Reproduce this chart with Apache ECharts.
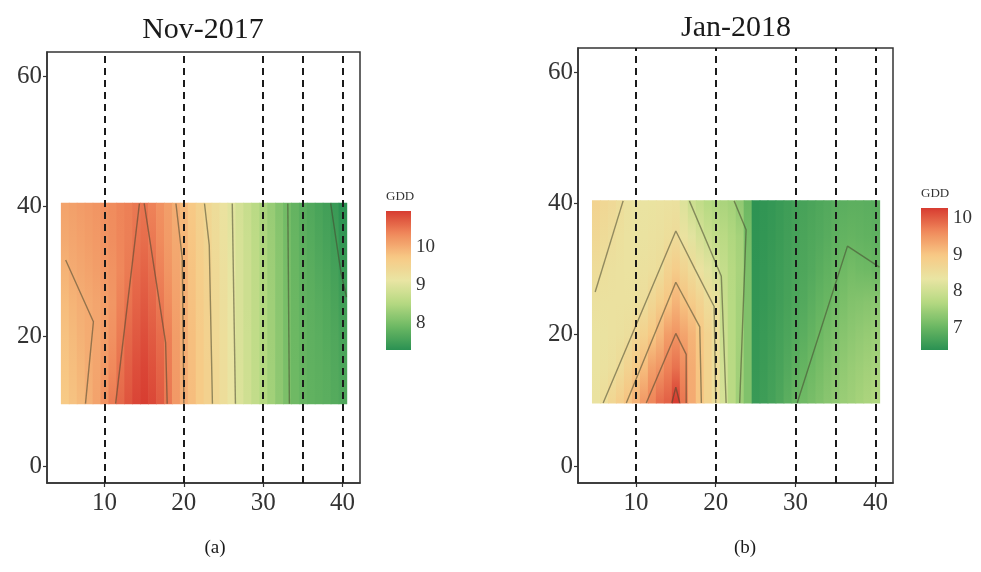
<!DOCTYPE html>
<html>
<head>
<meta charset="utf-8">
<script src="https://cdn.jsdelivr.net/npm/echarts@6/dist/echarts.min.js"></script>
<style>
html,body{margin:0;padding:0;background:#fff;}
#chart{width:981px;height:572px;}
</style>
</head>
<body>
<div id="chart"></div>
<script>
// ---------------- DATA ----------------
const panelTitles = ['Nov-2017', 'Jan-2018'];
const panelCaptions = ['(a)', '(b)'];
const legendTitle = 'GDD';
const xCols = [5,6,7,8,9,10,11,12,13,14,15,16,17,18,19,20,21,22,23,24,25,26,27,28,29,30,31,32,33,34,35,36,37,38,39,40];
const yRows = [10,15,20,25,30,35,40];
const xTicks = [10,20,30,40];
const yTicks = [0,20,40,60];
const dashedX = [10,20,30,35,40];

// GDD per column (x), values at yRows (bottom -> top)
const gddNov2017 = [
 [9.72,9.76,9.80,9.86,9.95,10.04,10.10],
 [9.80,9.84,9.88,9.94,10.02,10.08,10.13],
 [9.88,9.92,9.96,9.99,10.06,10.12,10.17],
 [9.97,10.00,10.01,10.03,10.10,10.16,10.20],
 [10.10,10.08,10.06,10.08,10.15,10.20,10.24],
 [10.25,10.20,10.15,10.15,10.20,10.25,10.28],
 [10.45,10.35,10.27,10.23,10.25,10.30,10.32],
 [10.60,10.53,10.46,10.40,10.36,10.37,10.38],
 [10.75,10.68,10.60,10.52,10.46,10.43,10.42],
 [10.87,10.80,10.72,10.64,10.57,10.51,10.48],
 [10.93,10.87,10.80,10.72,10.64,10.56,10.51],
 [10.85,10.78,10.70,10.62,10.55,10.47,10.40],
 [10.70,10.64,10.57,10.48,10.40,10.32,10.27],
 [10.48,10.45,10.42,10.32,10.24,10.18,10.15],
 [10.20,10.18,10.16,10.12,10.08,10.04,10.00],
 [10.00,10.00,10.00,9.98,9.96,9.92,9.88],
 [9.85,9.84,9.83,9.81,9.79,9.76,9.73],
 [9.70,9.69,9.68,9.66,9.63,9.60,9.57],
 [9.56,9.55,9.54,9.53,9.51,9.48,9.44],
 [9.43,9.42,9.41,9.40,9.38,9.35,9.32],
 [9.30,9.29,9.28,9.27,9.25,9.22,9.20],
 [9.15,9.14,9.13,9.12,9.10,9.07,9.03],
 [8.96,8.95,8.94,8.93,8.92,8.90,8.87],
 [8.82,8.81,8.80,8.79,8.78,8.76,8.73],
 [8.67,8.66,8.65,8.64,8.63,8.61,8.58],
 [8.52,8.51,8.50,8.49,8.48,8.46,8.43],
 [8.36,8.35,8.34,8.33,8.32,8.30,8.27],
 [8.20,8.19,8.18,8.17,8.16,8.14,8.11],
 [8.04,8.03,8.02,8.01,8.00,7.98,7.96],
 [7.93,7.92,7.91,7.90,7.88,7.86,7.83],
 [7.86,7.85,7.84,7.82,7.80,7.77,7.73],
 [7.81,7.80,7.79,7.77,7.74,7.70,7.66],
 [7.78,7.77,7.75,7.72,7.68,7.63,7.59],
 [7.75,7.73,7.70,7.67,7.62,7.57,7.52],
 [7.70,7.68,7.65,7.60,7.55,7.50,7.44],
 [7.65,7.62,7.58,7.52,7.45,7.38,7.31]
];
const gddJan2018 = [
 [8.40,8.38,8.38,8.44,8.55,8.65,8.75],
 [8.52,8.43,8.40,8.42,8.48,8.57,8.66],
 [8.69,8.47,8.42,8.42,8.45,8.51,8.60],
 [8.86,8.57,8.45,8.42,8.43,8.46,8.52],
 [9.03,8.75,8.49,8.43,8.41,8.41,8.42],
 [9.20,8.93,8.64,8.46,8.40,8.38,8.37],
 [9.45,9.10,8.80,8.51,8.44,8.40,8.38],
 [9.65,9.40,8.97,8.68,8.47,8.42,8.39],
 [9.85,9.50,9.16,8.85,8.53,8.45,8.41],
 [9.95,9.68,9.43,9.00,8.74,8.50,8.43],
 [10.25,9.82,9.51,9.19,8.88,8.56,8.45],
 [9.78,9.60,9.36,9.04,8.72,8.40,8.18],
 [9.30,9.28,9.20,8.90,8.57,8.25,7.97],
 [9.02,9.02,8.98,8.74,8.41,8.09,7.85],
 [8.76,8.76,8.74,8.55,8.25,7.95,7.72],
 [8.50,8.50,8.50,8.45,8.07,7.85,7.65],
 [8.10,8.05,7.98,7.92,7.88,7.75,7.60],
 [7.75,7.74,7.73,7.72,7.70,7.65,7.55],
 [7.50,7.52,7.55,7.56,7.58,7.55,7.38],
 [7.22,7.22,7.22,7.22,7.20,7.15,7.05],
 [6.55,6.52,6.50,6.48,6.46,6.45,6.43],
 [6.60,6.57,6.55,6.52,6.50,6.48,6.47],
 [6.66,6.63,6.60,6.57,6.55,6.52,6.50],
 [6.75,6.70,6.66,6.62,6.60,6.57,6.55],
 [6.88,6.80,6.73,6.68,6.65,6.62,6.60],
 [7.00,6.90,6.80,6.74,6.70,6.67,6.64],
 [7.08,6.98,6.88,6.80,6.75,6.72,6.68],
 [7.15,7.06,6.97,6.88,6.80,6.76,6.72],
 [7.22,7.14,7.05,6.96,6.87,6.80,6.76],
 [7.30,7.22,7.13,7.02,6.93,6.85,6.80],
 [7.36,7.28,7.19,7.09,6.99,6.91,6.85],
 [7.45,7.37,7.28,7.18,7.07,6.96,6.88],
 [7.50,7.43,7.34,7.24,7.12,6.98,6.90],
 [7.55,7.48,7.38,7.26,7.08,6.96,6.90],
 [7.60,7.52,7.42,7.28,7.06,6.94,6.88],
 [7.65,7.56,7.45,7.30,7.02,6.92,6.86]
];
// contour lines ([x, y] points)
const contoursNov2017 = [
 [[5.1,31.7],[8.6,22.2],[7.6,9.6]],
 [[11.4,9.6],[14.4,40.4]],
 [[15.0,40.4],[17.7,19.0],[17.9,9.6]],
 [[19.0,40.4],[19.8,32.0],[20.0,9.6]],
 [[22.6,40.4],[23.2,34.0],[23.6,9.6]],
 [[26.1,40.4],[26.5,9.6]],
 [[33.1,40.4],[33.3,9.6]],
 [[38.5,40.4],[39.8,29.8],[40.5,26.0]]
];
const contoursJan2018 = [
 [[8.4,40.4],[4.9,26.5]],
 [[5.9,9.6],[15.0,35.8],[17.4,30.0],[19.8,24.3],[20.0,9.6]],
 [[8.8,9.6],[15.0,28.0],[18.0,21.2],[18.2,9.6]],
 [[11.3,9.6],[15.0,20.2],[16.3,17.0],[16.3,9.6]],
 [[14.5,9.6],[15.0,12.0],[15.5,9.6]],
 [[16.7,40.4],[20.7,28.9],[21.3,9.6]],
 [[22.3,40.4],[23.8,36.0],[23.0,9.6]],
 [[30.2,9.6],[36.5,33.5],[40.5,30.3]]
];
const rangeNov2017 = [7.3, 10.95];
const rangeJan2018 = [6.4, 10.27];
const colorbarTicksNov2017 = [8,9,10];
const colorbarTicksJan2018 = [7,8,9,10];

// ---------------- STYLE ----------------
const palette = ['#2a9152','#6cb863','#b5d981','#e9e5a3','#f7c985','#f08a5c','#d73b30'];
const FONT = 'Liberation Serif';
const cellHalfX = 0.5, cellHalfY = 0.5;
const xRange = [2.75, 42.2];
const yRange = [-2.6, 63.7];

function hexToRgb(h){return [parseInt(h.slice(1,3),16),parseInt(h.slice(3,5),16),parseInt(h.slice(5,7),16)];}
const palRgb = palette.map(hexToRgb);
function valueToColor(v, range){
  let t = (v - range[0]) / (range[1] - range[0]);
  t = Math.max(0, Math.min(1, t));
  const f = t * (palRgb.length - 1);
  const i = Math.min(Math.floor(f), palRgb.length - 2);
  const r = f - i;
  const a = palRgb[i], b = palRgb[i+1];
  const c = a.map((ai, k) => Math.round(ai + (b[k]-ai)*r));
  return 'rgb(' + c.join(',') + ')';
}

function heatRender(values, range){
  return function(params, api){
    const x = api.value(0);
    const col = values[params.dataIndex];
    const p1 = api.coord([x - cellHalfX, yRows[yRows.length-1] + cellHalfY]);
    const p2 = api.coord([x + cellHalfX, yRows[0] - cellHalfY]);
    const h = p2[1] - p1[1];
    const stops = [];
    for (let i = yRows.length - 1; i >= 0; i--) {
      const py = api.coord([x, yRows[i]])[1];
      stops.push({offset: (py - p1[1]) / h, color: valueToColor(col[i], range)});
    }
    return {
      type: 'rect',
      shape: {x: p1[0], y: p1[1], width: p2[0] - p1[0] + 0.7, height: h},
      style: {fill: new echarts.graphic.LinearGradient(0, 0, 0, 1, stops)}
    };
  };
}

function colorbarRender(range){
  return function(params, api){
    const p1 = api.coord([0, range[1]]);
    const p2 = api.coord([1, range[0]]);
    const stops = [];
    const n = 40;
    for (let i = 0; i <= n; i++) {
      const v = range[1] - (range[1]-range[0]) * i / n;
      stops.push({offset: i / n, color: valueToColor(v, range)});
    }
    return {
      type: 'rect',
      shape: {x: p1[0], y: p1[1], width: p2[0]-p1[0], height: p2[1]-p1[1]},
      style: {fill: new echarts.graphic.LinearGradient(0, 0, 0, 1, stops)}
    };
  };
}

const axisColor = '#333';
function panelXAxis(gridIndex){
  return {
    type: 'value', gridIndex, min: xRange[0], max: xRange[1],
    axisLine: {show: true, onZero: false, lineStyle: {color: axisColor, width: 1.5}},
    axisTick: {show: true, customValues: xTicks, length: 4, lineStyle: {color: axisColor, width: 1.2}},
    axisLabel: {show: true, customValues: xTicks, margin: 8, color: '#333', fontFamily: FONT, fontSize: 25},
    splitLine: {show: false}
  };
}
function panelYAxis(gridIndex){
  return {
    type: 'value', gridIndex, min: yRange[0], max: yRange[1],
    axisLine: {show: true, onZero: false, lineStyle: {color: axisColor, width: 1.5}},
    axisTick: {show: true, customValues: yTicks, length: 4, lineStyle: {color: axisColor, width: 1.2}},
    axisLabel: {show: true, customValues: yTicks, margin: 5, color: '#333', fontFamily: FONT, fontSize: 25},
    splitLine: {show: false}
  };
}
function cbXAxis(gridIndex){
  return {type: 'value', gridIndex, min: 0, max: 1, show: false};
}
function cbYAxis(gridIndex, range, ticks, position, withLabels){
  return {
    type: 'value', gridIndex, min: range[0], max: range[1], position,
    axisLine: {show: false},
    axisTick: {show: true, inside: true, customValues: ticks, length: 5, lineStyle: {color: 'rgba(255,255,255,0.85)', width: 1}},
    axisLabel: {show: withLabels, customValues: ticks, margin: 5, color: '#333', fontFamily: FONT, fontSize: 19},
    splitLine: {show: false}
  };
}

function panelSeries(gi, values, range, contours){
  const s = [];
  s.push({
    type: 'custom', xAxisIndex: gi, yAxisIndex: gi, z: 1, silent: true,
    renderItem: heatRender(values, range),
    encode: {x: 0, y: 1},
    data: xCols.map(x => [x, yRows[0]])
  });
  contours.forEach(c => {
    s.push({
      type: 'line', xAxisIndex: gi, yAxisIndex: gi, z: 3, silent: true,
      data: c, symbol: 'none', showSymbol: false, smooth: false,
      lineStyle: {color: 'rgba(70,70,45,0.55)', width: 1.4}
    });
  });
  s.push({
    type: 'line', xAxisIndex: gi, yAxisIndex: gi, z: 5, silent: true,
    data: [], symbol: 'none',
    markLine: {
      silent: true, symbol: 'none', label: {show: false}, animation: false,
      lineStyle: {type: [7, 5], color: '#1a1a1a', width: 2},
      emphasis: {disabled: true},
      data: dashedX.map(v => ({xAxis: v}))
    }
  });
  return s;
}

const chart = echarts.init(document.getElementById('chart'), null, {renderer: 'canvas'});
const option = {
  animation: false,
  backgroundColor: '#fff',
  grid: [
    {left: 47, top: 52, width: 313, height: 431, show: true, borderColor: axisColor, borderWidth: 1.5, backgroundColor: 'transparent', containLabel: false, outerBoundsMode: 'none'},
    {left: 578, top: 48, width: 315, height: 435, show: true, borderColor: axisColor, borderWidth: 1.5, backgroundColor: 'transparent', containLabel: false, outerBoundsMode: 'none'},
    {left: 386, top: 211, width: 25, height: 139, containLabel: false, outerBoundsMode: 'none'},
    {left: 921, top: 208, width: 27, height: 142, containLabel: false, outerBoundsMode: 'none'}
  ],
  xAxis: [panelXAxis(0), panelXAxis(1), cbXAxis(2), cbXAxis(3)],
  yAxis: [
    panelYAxis(0), panelYAxis(1),
    cbYAxis(2, rangeNov2017, colorbarTicksNov2017, 'right', true),
    cbYAxis(2, rangeNov2017, colorbarTicksNov2017, 'left', false),
    cbYAxis(3, rangeJan2018, colorbarTicksJan2018, 'right', true),
    cbYAxis(3, rangeJan2018, colorbarTicksJan2018, 'left', false)
  ],
  graphic: [
    {type: 'text', x: 203, y: 30, style: {text: panelTitles[0], font: '30px "Liberation Serif"', fill: '#1a1a1a', align: 'center', verticalAlign: 'middle'}},
    {type: 'text', x: 736, y: 28, style: {text: panelTitles[1], font: '30px "Liberation Serif"', fill: '#1a1a1a', align: 'center', verticalAlign: 'middle'}},
    {type: 'text', x: 386, y: 197, style: {text: legendTitle, font: '13px "Liberation Serif"', fill: '#333', align: 'left', verticalAlign: 'middle'}},
    {type: 'text', x: 921, y: 194, style: {text: legendTitle, font: '13px "Liberation Serif"', fill: '#333', align: 'left', verticalAlign: 'middle'}},
    {type: 'text', x: 215, y: 548, style: {text: panelCaptions[0], font: '19px "Liberation Serif"', fill: '#1a1a1a', align: 'center', verticalAlign: 'middle'}},
    {type: 'text', x: 745, y: 548, style: {text: panelCaptions[1], font: '19px "Liberation Serif"', fill: '#1a1a1a', align: 'center', verticalAlign: 'middle'}}
  ],
  series: [
    ...panelSeries(0, gddNov2017, rangeNov2017, contoursNov2017),
    ...panelSeries(1, gddJan2018, rangeJan2018, contoursJan2018),
    {type: 'custom', xAxisIndex: 2, yAxisIndex: 2, silent: true, renderItem: colorbarRender(rangeNov2017), encode: {x: 0, y: 1}, data: [[0, rangeNov2017[0]]]},
    {type: 'custom', xAxisIndex: 3, yAxisIndex: 4, silent: true, renderItem: colorbarRender(rangeJan2018), encode: {x: 0, y: 1}, data: [[0, rangeJan2018[0]]]}
  ]
};
chart.setOption(option);
</script>
</body>
</html>
